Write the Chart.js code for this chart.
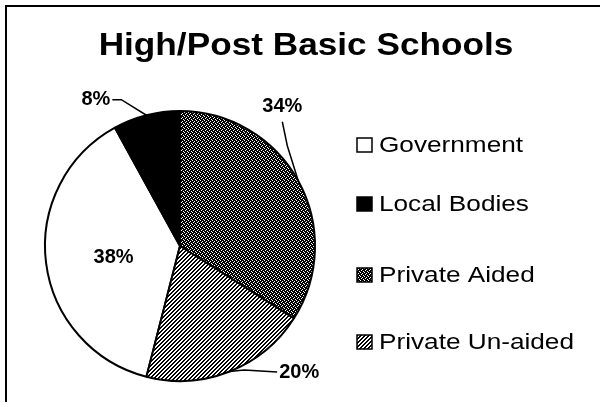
<!DOCTYPE html>
<html>
<head>
<meta charset="utf-8">
<title>High/Post Basic Schools</title>
<script src="https://cdn.jsdelivr.net/npm/chart.js@4"></script>
<style>
  html, body { margin: 0; padding: 0; background: #fff; }
  #wrap { position: relative; width: 600px; height: 407px; }
</style>
</head>
<body>
<div id="wrap"><canvas id="chart"></canvas></div>
<script>
// ─── Data ───────────────────────────────────────────────────
const TITLE      = "High/Post Basic Schools";
const categories = ["Government", "Local Bodies", "Private Aided", "Private Un-aided"];
const shares     = [38, 8, 34, 20];
const shareText  = ["38%", "8%", "34%", "20%"];

// ─── Layout (positions only, no values) ─────────────────────
const FONT = '"Liberation Sans", Arial, sans-serif';
// label spot: degrees clockwise from 12 o'clock, distance as a factor of the radius
const labelSpot = [
  { deg: 260,   k: 0.50 },
  { deg: -29.9, k: 1.25 },
  { deg: 36.3,  k: 1.28 },
  { deg: 136.6, k: 1.285 }
];
// leader: which side of the label it leaves from, and an elbow offset
const leader = [
  null,
  { side: "right",  elbow: [9, 0] },
  { side: "bottom", elbow: [5, 24] },
  { side: "left",   elbow: [-33, -2] }
];
const legendRows = [145, 204, 275, 342];

// ─── Fill patterns ──────────────────────────────────────────
function makePattern(size, draw) {
  const c = document.createElement("canvas");
  c.width = size; c.height = size;
  const g = c.getContext("2d");
  g.fillStyle = "#fff";
  g.fillRect(0, 0, size, size);
  draw(g);
  return document.getElementById("chart").getContext("2d").createPattern(c, "repeat");
}

const dotted = makePattern(4, g => {
  g.fillStyle = "#000";
  g.fillRect(0, 0, 4, 4);
  g.fillStyle = "#fff";
  [[0, 0], [2, 1], [1, 2], [3, 3]].forEach(p => g.fillRect(p[0], p[1], 1, 1));
});

const hatched = makePattern(4, g => {
  g.fillStyle = "#000";
  for (let i = 0; i < 4; i++) {
    g.fillRect((3 - i + 4) % 4, i, 1, 1);
    g.fillRect((4 - i + 4) % 4, i, 1, 1);
  }
});

const fills = ["#ffffff", "#000000", dotted, hatched];

// ─── Overlay: title, labels, legend, frame ──────────────────
function stretchText(ctx, text, x, y, sx) {
  ctx.save();
  ctx.translate(x, y);
  ctx.scale(sx, 1);
  ctx.fillText(text, 0, 0);
  ctx.restore();
}

const overlay = {
  id: "overlay",
  afterDraw(chart) {
    const ctx = chart.ctx;
    const arcs = chart.getDatasetMeta(0).data;

    ctx.save();
    ctx.fillStyle = "#000";
    ctx.strokeStyle = "#000";

    // frame (top and left edges of the scanned box)
    ctx.lineWidth = 2;
    ctx.beginPath();
    ctx.moveTo(600, 6); ctx.lineTo(6, 6); ctx.lineTo(6, 402);
    ctx.stroke();

    // title
    ctx.font = "bold 32px " + FONT;
    ctx.textAlign = "center";
    ctx.textBaseline = "alphabetic";
    stretchText(ctx, TITLE, 306, 55, 1.1);

    // percentage labels + leader lines
    ctx.font = "bold 20px " + FONT;
    ctx.textBaseline = "middle";
    ctx.lineWidth = 1.5;
    arcs.forEach((arc, i) => {
      const { x, y, outerRadius, startAngle, endAngle } = arc.getProps(["x", "y", "outerRadius", "startAngle", "endAngle"], true);
      const a = (labelSpot[i].deg - 90) * Math.PI / 180;
      const lx = x + Math.cos(a) * outerRadius * labelSpot[i].k;
      const ly = y + Math.sin(a) * outerRadius * labelSpot[i].k;
      ctx.fillText(shareText[i], lx, ly);

      const ld = leader[i];
      if (!ld) return;
      const w = ctx.measureText(shareText[i]).width;
      let sx = lx, sy = ly;
      if (ld.side === "right")  sx = lx + w / 2 + 2;
      if (ld.side === "left")   sx = lx - w / 2 - 2;
      if (ld.side === "bottom") sy = ly + 15;
      const mid = (startAngle + endAngle) / 2;
      const ex = x + Math.cos(mid) * outerRadius;
      const ey = y + Math.sin(mid) * outerRadius;
      ctx.beginPath();
      ctx.moveTo(sx, sy);
      ctx.lineTo(sx + ld.elbow[0], sy + ld.elbow[1]);
      ctx.lineTo(ex, ey);
      ctx.stroke();
    });

    // legend
    ctx.textAlign = "left";
    ctx.textBaseline = "alphabetic";
    ctx.font = "22px " + FONT;
    categories.forEach((name, i) => {
      const cy = legendRows[i];
      ctx.fillStyle = fills[i];
      ctx.fillRect(357, cy - 7, 15, 14);
      ctx.lineWidth = 1.5;
      ctx.strokeStyle = "#000";
      ctx.strokeRect(357, cy - 7, 15, 14);
      ctx.fillStyle = "#000";
      stretchText(ctx, name, 379, cy + 7, 1.19);
    });

    ctx.restore();
  }
};

// ─── Chart ──────────────────────────────────────────────────
function initChart() {
  const canvas = document.getElementById("chart");
  const before = shares[0] + shares[1];
  new Chart(canvas.getContext("2d"), {
    type: "pie",
    data: {
      labels: categories,
      datasets: [{
        data: shares,
        backgroundColor: fills,
        borderColor: "#000",
        borderWidth: 2
      }]
    },
    options: {
      responsive: true,
      maintainAspectRatio: false,
      animation: false,
      rotation: -before / 100 * 360,
      layout: { padding: { left: 44, right: 284, top: 110, bottom: 25 } },
      plugins: {
        legend: { display: false },
        title: { display: false },
        tooltip: { enabled: false }
      }
    },
    plugins: [overlay]
  });
}

document.addEventListener("DOMContentLoaded", initChart);
</script>
</body>
</html>
